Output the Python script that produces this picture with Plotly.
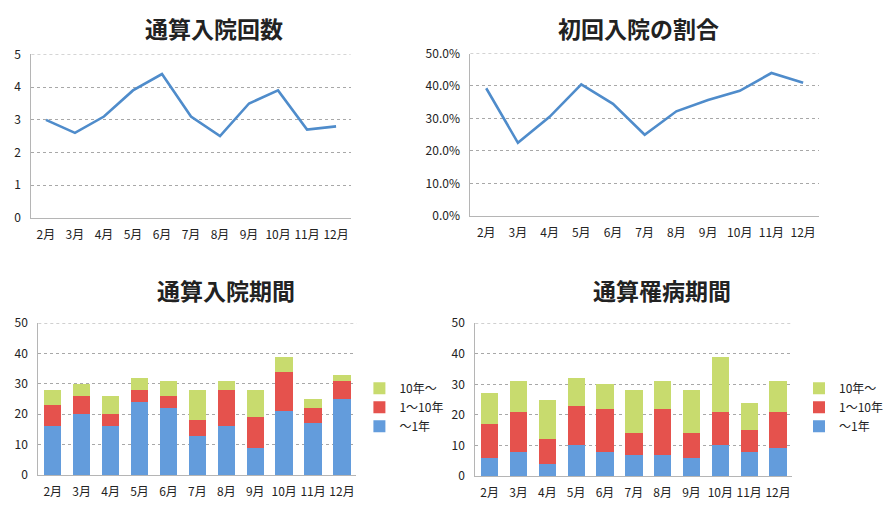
import plotly.graph_objects as go

# Month categories shared by all four panels
months = ["2月", "3月", "4月", "5月", "6月", "7月", "8月", "9月", "10月", "11月", "12月"]

# 通算入院回数 (average count)
admissions = [3.0, 2.6, 3.1, 3.9, 4.4, 3.1, 2.5, 3.5, 3.9, 2.7, 2.8]

# 初回入院の割合 (ratio)
first_ratio = [0.393, 0.225, 0.305, 0.405, 0.345, 0.250, 0.322, 0.357, 0.385, 0.440, 0.410]

# 通算入院期間 stacked groups
stay_lt1 = [16, 20, 16, 24, 22, 13, 16, 9, 21, 17, 25]
stay_1to10 = [7, 6, 4, 4, 4, 5, 12, 10, 13, 5, 6]
stay_10up = [5, 4, 6, 4, 5, 10, 3, 9, 5, 3, 2]

# 通算罹病期間 stacked groups
ill_lt1 = [6, 8, 4, 10, 8, 7, 7, 6, 10, 8, 9]
ill_1to10 = [11, 13, 8, 13, 14, 7, 15, 8, 11, 7, 12]
ill_10up = [10, 10, 13, 9, 8, 14, 9, 14, 18, 9, 10]

group_names = ["～1年", "1～10年", "10年～"]

W, H = 888, 511
FONT = "Noto Sans CJK JP"
LINE_COLOR = "#4F8CCB"
BAR_COLORS = ["#639CDC", "#E5524D", "#C8DB6E"]
GRID = "#a8a8a8"
AXIS = "#b5b5b5"
TICK_FONT = dict(family=FONT, size=12, color="#222222")


def xdom(x0, x1):
    return [x0 / W, x1 / W]


def ydom(top, bottom):
    return [1 - bottom / H, 1 - top / H]


fig = go.Figure()

# Line panels
fig.add_trace(go.Scatter(x=months, y=admissions, mode="lines",
                         line=dict(color=LINE_COLOR, width=2.6),
                         xaxis="x", yaxis="y", showlegend=False))
fig.add_trace(go.Scatter(x=months, y=first_ratio, mode="lines",
                         line=dict(color=LINE_COLOR, width=2.6),
                         xaxis="x2", yaxis="y2", showlegend=False))

# Stacked bar panels
for vals, name, color in zip([stay_lt1, stay_1to10, stay_10up], group_names, BAR_COLORS):
    fig.add_trace(go.Bar(x=months, y=vals, name=name, marker=dict(color=color, line=dict(width=0)),
                         width=0.6, xaxis="x3", yaxis="y3", legend="legend", legendgroup="a" + name))
for vals, name, color in zip([ill_lt1, ill_1to10, ill_10up], group_names, BAR_COLORS):
    fig.add_trace(go.Bar(x=months, y=vals, name=name, marker=dict(color=color, line=dict(width=0)),
                         width=0.6, xaxis="x4", yaxis="y4", legend="legend2", legendgroup="b" + name))

xcommon = dict(type="category", range=[-0.5, 10.5], showgrid=False, showline=True,
               linecolor=AXIS, linewidth=1, ticks="", tickfont=TICK_FONT, fixedrange=True,
               tickangle=0, ticklabelstandoff=6)
ycommon = dict(showgrid=True, gridcolor=GRID, griddash="dot", gridwidth=1, showline=True,
               linecolor=AXIS, linewidth=1, ticks="", tickfont=TICK_FONT, zeroline=False,
               fixedrange=True, ticklabelstandoff=7)

legend_common = dict(traceorder="reversed", font=dict(family=FONT, size=12, color="#222222"),
                     bgcolor="rgba(0,0,0,0)", xanchor="left", yanchor="middle",
                     tracegroupgap=9, itemwidth=30)

fig.update_layout(
    width=W, height=H,
    margin=dict(l=0, r=0, t=0, b=0),
    paper_bgcolor="white", plot_bgcolor="white",
    barmode="stack",
    font=dict(family=FONT),
    xaxis=dict(domain=xdom(32, 357), anchor="y", **xcommon),
    yaxis=dict(domain=ydom(46, 215), anchor="x", range=[0, 5], dtick=1, **ycommon),
    xaxis2=dict(domain=xdom(479, 834), anchor="y2", **xcommon),
    yaxis2=dict(domain=ydom(45, 213), anchor="x2", range=[0, 0.5], dtick=0.1,
                tickformat=".1%", **ycommon),
    xaxis3=dict(domain=xdom(39, 363), anchor="y3", **xcommon),
    yaxis3=dict(domain=ydom(324, 481), anchor="x3", range=[0, 50], dtick=10, **ycommon),
    xaxis4=dict(domain=xdom(484, 807), anchor="y4", **xcommon),
    yaxis4=dict(domain=ydom(324, 482), anchor="x4", range=[0, 50], dtick=10, **ycommon),
    legend=dict(x=366 / W, y=1 - 411 / H, **legend_common),
    legend2=dict(x=814 / W, y=1 - 411 / H, **legend_common),
)

# Dotted gridline along the top of each plot area (at the axis maximum)
for xa, ya, top in [("x", "y", 5), ("x2", "y2", 0.5), ("x3", "y3", 50), ("x4", "y4", 50)]:
    fig.add_shape(type="line", xref=xa + " domain", yref=ya, x0=0, x1=1, y0=top, y1=top,
                  line=dict(color=GRID, width=1, dash="dot"), layer="below")

titles = [("通算入院回数", 218, 19), ("初回入院の割合", 650, 19),
          ("通算入院期間", 230, 290), ("通算罹病期間", 674, 290)]
for text, cx, cy in titles:
    fig.add_annotation(text="<b>%s</b>" % text, x=cx / W, y=1 - cy / H, xref="paper", yref="paper",
                       xanchor="center", yanchor="middle", showarrow=False,
                       font=dict(family=FONT, size=23, color="#222222"))

fig.write_html("out.html")
